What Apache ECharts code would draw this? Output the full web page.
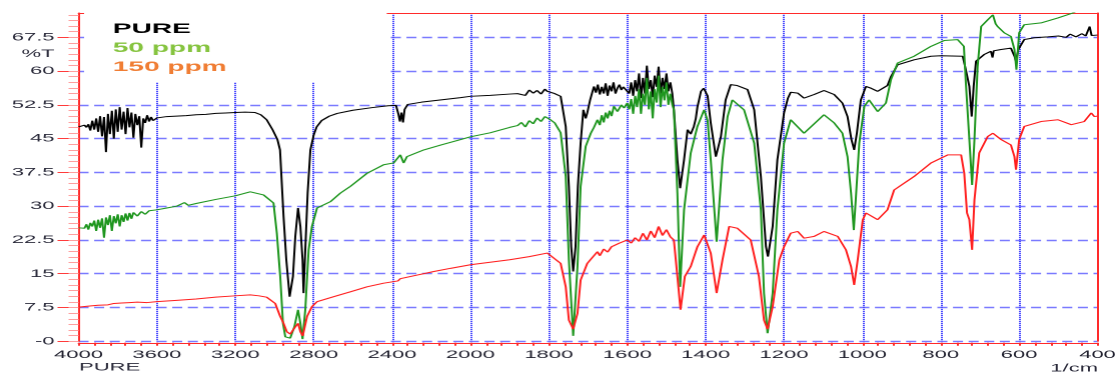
<!DOCTYPE html>
<html><head><meta charset="utf-8">
<script src="https://cdn.jsdelivr.net/npm/echarts@6/dist/echarts.min.js"></script>
<style>
html,body{margin:0;padding:0;background:#fff;overflow:hidden;width:1115px;height:374px;}
#c{width:557.5px;height:374px;transform:scaleX(2);transform-origin:0 0;}
</style></head><body><div id="c"></div>
<script>
const seriesNames = ['PURE', '50 ppm', '150 ppm'];
const xTickLabels = [4000, 3600, 3200, 2800, 2400, 2000, 1800, 1600, 1400, 1200, 1000, 800, 600, 400];
const yTickLabels = [0, 7.5, 15, 22.5, 30, 37.5, 45, 52.5, 60, 67.5];

// [wavenumber 1/cm, %T]
const pure = [[4000,47.6],[3990,47.8],[3980,47.3],[3970,48.0],[3960,47.5],[3950,48.2],[3940,46.8],[3930,49.0],[3920,47.0],[3910,49.5],[3900,46.5],[3890,50.0],[3880,45.5],[3870,49.8],[3860,42.0],[3850,50.5],[3840,46.0],[3830,51.2],[3820,45.0],[3810,51.5],[3800,46.5],[3790,52.0],[3780,47.0],[3770,51.0],[3760,46.0],[3750,51.8],[3740,47.5],[3730,50.8],[3720,45.2],[3710,50.5],[3700,48.0],[3690,50.0],[3680,43.0],[3670,49.5],[3660,48.5],[3650,50.2],[3640,48.8],[3630,49.8],[3620,49.0],[3600,49.6],
[3550,49.9],[3500,50.0],[3450,50.1],[3400,50.3],[3350,50.4],[3300,50.6],[3250,50.7],[3200,50.8],[3150,50.9],[3100,50.8],[3070,50.3],[3040,49.2],[3010,47.0],[2985,44.8],[2972,42.5],[2954,27.7],[2940,18.1],[2923,9.9],[2906,14.4],[2894,23.3],[2880,29.6],[2868,25.5],[2857,18.1],[2852,10.7],[2843,20.3],[2831,32.9],[2817,42.5],[2800,45.8],[2785,47.6],[2760,49.0],[2720,50.0],[2680,50.6],[2600,51.3],[2500,51.9],[2420,52.3],[2380,52.4],[2368,50.5],[2360,48.8],[2352,50.8],[2344,48.6],[2336,51.5],[2320,52.6],[2250,53.1],[2150,53.6],[2050,54.1],[2000,54.4],[1950,54.6],[1900,54.9],[1880,55.0],[1870,55.4],[1860,54.6],[1850,55.8],[1840,55.1],[1830,55.7],[1820,54.9],[1810,56.0],[1804,55.5],[1796,55.8],[1785,55.0],[1770,54.4],[1757,47.7],[1749,34.4],[1743,21.0],[1738,15.5],[1732,21.0],[1726,34.4],[1719,44.0],[1712,51.4],[1706,49.5],[1702,50.7],[1695,53.5],[1685,56.6],
[1680,55.2],[1675,57.0],[1670,54.8],[1665,56.5],[1660,55.0],[1655,57.3],[1650,54.5],[1645,56.8],[1640,55.5],[1635,57.5],[1630,55.0],[1625,56.2],[1620,57.0],[1615,55.8],[1610,56.5],[1600,56.6],[1595,55.0],[1590,57.5],[1585,54.5],[1580,58.0],[1575,55.5],[1570,59.5],[1565,54.0],[1560,58.5],[1555,55.0],[1550,61.2],[1545,56.0],[1540,58.0],[1535,54.2],[1530,59.0],[1525,56.5],[1520,61.0],[1515,55.0],[1510,58.5],[1505,56.0],[1500,59.5],[1495,55.5],[1490,57.5],[1485,55.0],
[1481,51.4],[1472,40.3],[1465,34.0],[1455,40.3],[1446,47.0],[1438,46.0],[1430,47.7],[1425,49.5],[1421,52.0],[1412,55.5],[1405,56.2],[1400,55.9],[1395,54.5],[1387,48.5],[1374,41.0],[1361,45.5],[1349,53.6],[1336,57.0],[1320,56.8],[1293,55.9],[1276,51.4],[1259,36.6],[1246,21.0],[1241,18.8],[1229,25.5],[1217,40.3],[1200,50.7],[1190,54.0],[1183,55.3],[1165,55.1],[1149,54.0],[1123,54.8],[1098,55.7],[1072,54.8],[1051,52.9],[1038,49.9],[1028,44.8],[1021,42.5],[1014,46.3],[1004,53.6],[991,56.6],[978,56.2],[961,55.5],[936,56.8],[927,58.8],[910,61.4],[868,62.5],[825,63.3],[800,63.4],[744,63.3],[736,60.3],[727,56.6],[721,49.9],[716,56.6],[710,62.2],[689,63.7],[672,64.4],[668,63.0],[665,64.5],[646,64.8],[621,65.1],[612,63.3],[608,62.2],[602,64.8],[587,67.0],[561,67.4],[527,67.6],[500,67.8],[480,67.5],[470,68.2],[455,67.6],[440,68.3],[430,67.8],[420,69.9],[415,67.9],[408,68.1],[400,68.0]];

const ppm50 = [[4000,25.2],[3990,25.0],[3980,25.6],[3970,25.1],[3960,26.0],[3950,24.8],[3940,26.3],[3930,25.5],[3920,26.8],[3910,24.5],[3900,27.0],[3890,25.2],[3880,27.3],[3870,23.0],[3860,27.5],[3850,25.8],[3840,28.0],[3830,24.5],[3820,27.8],[3810,26.2],[3800,28.2],[3790,25.5],[3780,28.0],[3770,26.5],[3760,28.4],[3750,26.8],[3740,28.5],[3730,27.2],[3720,28.6],[3700,27.8],[3680,28.8],[3660,28.2],[3640,29.0],[3620,28.7],[3600,29.2],[3550,29.6],[3500,30.0],[3460,30.8],[3440,30.2],[3400,30.6],[3300,31.5],[3200,32.3],[3124,33.2],[3056,32.5],[3005,30.7],[2988,24.0],[2971,14.4],[2957,4.0],[2945,1.0],[2920,0.7],[2899,3.2],[2880,7.0],[2868,4.0],[2857,0.5],[2843,7.0],[2826,20.3],[2809,25.5],[2783,29.6],[2715,31.0],[2664,32.9],[2613,34.4],[2528,37.3],[2443,39.2],[2392,39.6],[2375,39.4],[2358,41.4],[2341,39.6],[2324,41.0],[2238,42.5],[2150,43.6],[2050,44.8],[2000,45.4],[1950,46.3],[1900,47.5],[1880,47.9],[1870,48.6],[1860,47.6],[1850,49.0],[1840,48.3],[1830,49.6],[1820,48.8],[1810,49.9],[1796,49.2],[1785,48.5],[1770,46.3],[1757,36.6],[1749,18.1],[1738,1.2],[1727,16.6],[1719,34.4],[1706,43.3],[1693,46.2],[1685,47.5],[1676,49.2],
[1670,48.0],[1665,50.2],[1660,48.6],[1655,50.8],[1650,49.5],[1645,51.2],[1640,50.0],[1634,52.2],[1625,51.0],[1615,52.5],[1608,51.8],[1600,52.9],[1595,51.5],[1590,53.8],[1585,50.5],[1580,54.5],[1575,52.0],[1570,56.0],[1565,50.5],[1560,55.0],[1555,52.5],[1550,58.5],[1545,51.5],[1540,55.5],[1535,49.5],[1530,56.0],[1525,53.0],[1520,59.0],[1515,52.0],[1510,56.5],[1505,53.5],[1500,57.5],[1495,52.5],[1490,55.0],[1485,52.5],
[1481,51.4],[1472,32.9],[1465,12.1],[1455,29.2],[1438,41.8],[1421,47.7],[1404,51.4],[1395,49.0],[1387,40.3],[1372,22.1],[1357,40.3],[1344,49.9],[1332,53.6],[1302,51.4],[1276,44.0],[1259,29.2],[1251,10.7],[1242,1.8],[1229,10.7],[1217,29.2],[1200,44.0],[1183,49.2],[1175,49.6],[1149,46.2],[1098,50.3],[1072,48.5],[1051,46.2],[1038,41.0],[1029,32.9],[1022,24.7],[1017,31.4],[1008,44.0],[995,52.2],[983,53.6],[961,51.0],[940,52.9],[927,58.1],[910,61.8],[868,63.3],[825,65.5],[791,66.8],[757,67.0],[741,65.5],[736,57.4],[727,44.8],[720,34.7],[714,44.8],[706,61.0],[697,69.9],[680,71.4],[667,72.5],[660,70.5],[655,69.9],[638,68.5],[621,67.7],[612,64.8],[607,60.3],[600,68.5],[587,70.3],[544,70.7],[501,71.8],[463,72.9],[440,73.6],[420,74.2],[400,74.8]];

const ppm150 = [[4000,7.6],[3950,7.8],[3900,8.0],[3850,8.1],[3820,8.4],[3800,8.1],[3780,8.5],[3760,8.2],[3740,8.6],[3720,8.3],[3700,8.7],[3650,8.6],[3600,8.8],[3500,9.1],[3400,9.4],[3300,9.8],[3200,10.1],[3124,10.3],[3080,10.1],[3040,9.8],[3020,9.6],[2996,8.4],[2971,5.5],[2954,4.0],[2937,2.1],[2920,1.6],[2911,1.8],[2894,3.2],[2880,4.0],[2868,2.1],[2856,1.2],[2852,1.5],[2834,5.5],[2809,7.7],[2783,8.8],[2698,9.9],[2613,11.0],[2528,12.1],[2443,12.9],[2370,13.4],[2358,13.9],[2350,13.5],[2340,13.9],[2272,14.7],[2187,15.5],[2102,16.2],[2000,17.0],[1900,18.1],[1850,18.8],[1804,19.6],[1796,19.6],[1770,17.3],[1757,12.1],[1749,4.7],[1738,2.7],[1727,6.2],[1719,13.6],[1702,17.3],[1690,18.5],[1676,19.9],
[1670,19.0],[1660,20.5],[1650,19.8],[1640,21.0],[1630,20.6],[1620,21.8],[1610,21.4],[1600,22.5],[1590,21.8],[1580,23.0],[1570,22.2],[1560,24.0],[1550,22.5],[1540,24.5],[1530,23.0],[1520,25.5],[1510,23.5],[1500,24.8],[1490,23.2],
[1481,22.5],[1472,14.4],[1464,7.0],[1453,14.4],[1438,16.6],[1421,21.0],[1404,23.6],[1387,19.6],[1372,10.7],[1357,18.1],[1340,25.5],[1319,25.1],[1285,22.5],[1264,14.4],[1251,4.7],[1242,2.7],[1229,7.7],[1212,18.1],[1200,21.0],[1183,24.0],[1165,24.4],[1149,22.9],[1123,23.3],[1098,24.4],[1063,23.3],[1042,20.3],[1029,16.6],[1021,12.5],[1012,18.1],[999,27.0],[991,28.5],[961,27.0],[936,29.2],[919,33.6],[868,36.6],[825,39.6],[782,41.4],[748,41.4],[740,37.3],[733,28.5],[727,27.0],[720,20.3],[714,31.4],[702,41.8],[680,45.5],[667,46.2],[646,44.8],[621,43.6],[612,41.0],[608,38.1],[600,44.8],[587,47.7],[544,48.8],[501,49.2],[467,48.1],[434,48.8],[416,50.7],[408,49.9],[400,50.0]];

// piecewise-linear wavenumber scale: each labelled step gets equal width
function toU(w) {
  const L = xTickLabels;
  for (let i = 0; i < L.length - 1; i++) {
    if (w <= L[i] && w >= L[i + 1]) return i + (L[i] - w) / (L[i] - L[i + 1]);
  }
  return w > L[0] ? 0 : L.length - 1;
}
const conv = arr => arr.map(p => [toU(p[0]), p[1]]);

const font = "'Liberation Sans', Arial, sans-serif";
const red = '#ff2a2a';
const chart = echarts.init(document.getElementById('c'), null, {renderer: 'canvas', devicePixelRatio: 2, width: 557.5, height: 374});
const yMax = 72.9;

chart.setOption({
  animation: false,
  backgroundColor: '#fff',
  grid: {left: 39.25, right: 9.25, top: 13, bottom: 32.7, containLabel: false, outerBoundsMode: 'none'},
  legend: {
    show: true, orient: 'vertical', left: 42, top: 13, selectedMode: false,
    backgroundColor: '#fff', padding: [9, 80, 8, 9.4], itemGap: 5,
    itemWidth: 0, itemHeight: 14, icon: 'rect', itemStyle: {opacity: 0},
    textStyle: {fontSize: 14, fontWeight: 'bold', fontFamily: font},
    data: [
      {name: seriesNames[0], textStyle: {color: '#000000'}},
      {name: seriesNames[1], textStyle: {color: '#86c440'}},
      {name: seriesNames[2], textStyle: {color: '#f07d33'}}
    ],
    z: 10
  },
  xAxis: [{
    type: 'value', min: 0, max: xTickLabels.length - 1, interval: 1, position: 'bottom', offset: 1.5,
    axisLine: {show: true, onZero: false, lineStyle: {color: red, width: 1}},
    axisTick: {show: true, length: 3, lineStyle: {color: red}},
    minorTick: {show: true, splitNumber: 5, length: 3, lineStyle: {color: red}},
    axisLabel: {margin: 6.5, fontSize: 11, color: '#222230', fontFamily: font,
      formatter: u => String(xTickLabels[Math.round(u)])},
    splitLine: {show: true, showMinLine: false, showMaxLine: false, lineStyle: {color: '#4848ff', type: [1.2, 0.8], width: 1}},
    minorSplitLine: {show: false}
  }, {
    type: 'value', min: 0, max: xTickLabels.length - 1, position: 'top',
    axisLine: {show: true, onZero: false, lineStyle: {color: red, width: 1}},
    axisTick: {show: false}, axisLabel: {show: false}, splitLine: {show: false}, minorSplitLine: {show: false}
  }],
  yAxis: [{
    type: 'value', min: 0, max: yMax, interval: 7.5, position: 'left', alignTicks: false,
    axisLine: {show: true, onZero: false, lineStyle: {color: red, width: 1}},
    axisTick: {show: true, length: 10.5, lineStyle: {color: '#ff3b3b'}},
    axisLabel: {margin: 12, fontSize: 11, color: '#2b2b3b', fontFamily: font, showMaxLabel: false,
      formatter: v => (yTickLabels.indexOf(v) < 0 ? '' : (v === 0 ? '-0' : String(v)))},
    splitLine: {show: true, showMaxLine: false, lineStyle: {color: '#7a7aff', type: [5, 2.8], width: 1.4}}
  }, {
    type: 'value', min: 0, max: yMax, interval: 1.25, position: 'left', alignTicks: false,
    axisLine: {show: false},
    axisTick: {show: true, length: 5, lineStyle: {color: '#ff9f9f'}},
    axisLabel: {margin: 12, fontSize: 11, color: '#2b2b3b', fontFamily: font, showMaxLabel: false,
      formatter: v => (Math.abs(v - 63.75) < 1e-6 ? '%T' : '')},
    splitLine: {show: false}, minorSplitLine: {show: false}
  }, {
    type: 'value', min: 0, max: yMax, position: 'right', alignTicks: false,
    axisLine: {show: true, onZero: false, lineStyle: {color: red, width: 1}},
    axisTick: {show: false}, axisLabel: {show: false}, splitLine: {show: false}, minorSplitLine: {show: false}
  }],
  graphic: [
    {type: 'text', left: 39.5, top: 362, style: {text: 'PURE', font: '11px ' + font, fill: '#2b2b3b'}},
    {type: 'text', right: 9, top: 363, style: {text: '1/cm', font: '11px ' + font, fill: '#2b2b3b'}}
  ],
  series: [
    {name: seriesNames[0], type: 'line', data: conv(pure), showSymbol: false, symbol: 'none',
      lineStyle: {color: '#000000', width: 1}, itemStyle: {color: '#000000'}, z: 3},
    {name: seriesNames[1], type: 'line', data: conv(ppm50), showSymbol: false, symbol: 'none',
      lineStyle: {color: '#1e961e', width: 1}, itemStyle: {color: '#1e961e'}, z: 3},
    {name: seriesNames[2], type: 'line', data: conv(ppm150), showSymbol: false, symbol: 'none',
      lineStyle: {color: '#ff1e1e', width: 1}, itemStyle: {color: '#ff1e1e'}, z: 3}
  ]
});
</script></body></html>
